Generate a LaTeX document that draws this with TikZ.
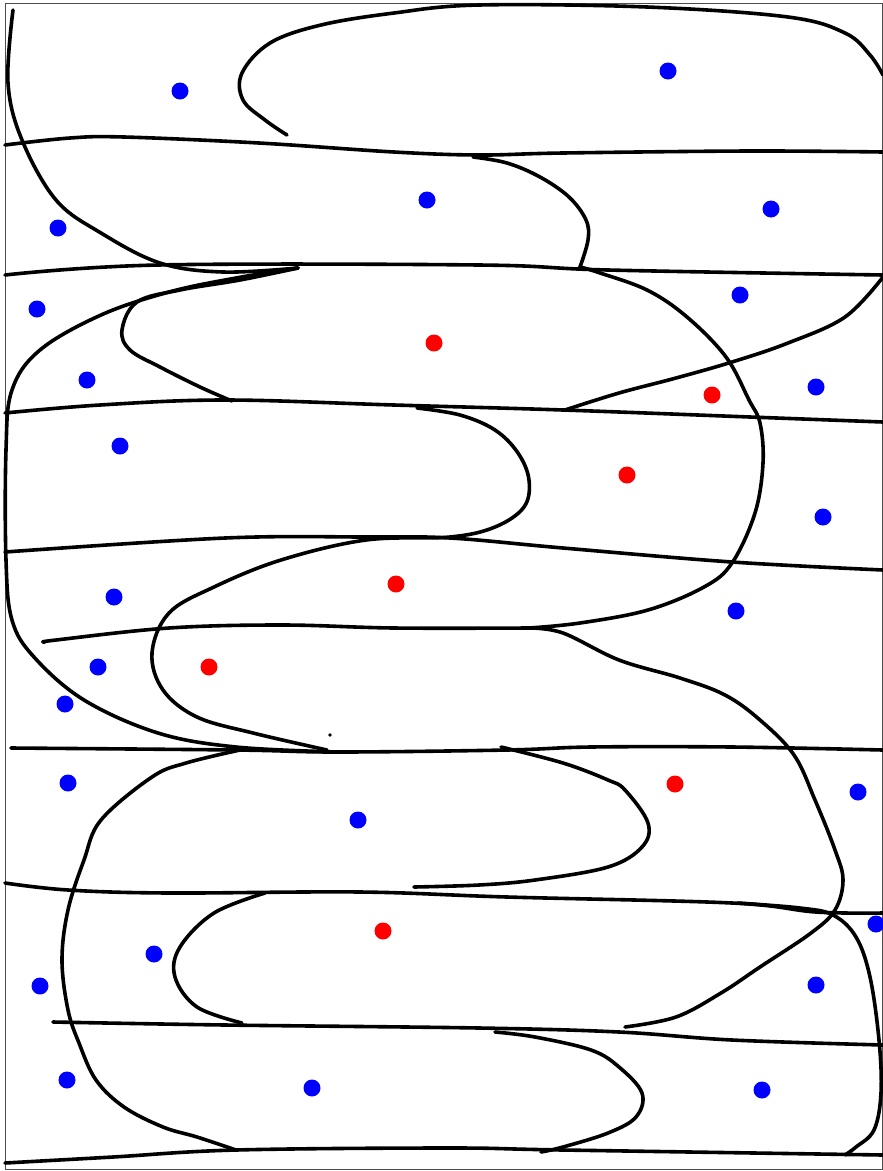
\documentclass[tikz,border=0pt]{standalone}
\usetikzlibrary{shapes.geometric}

\begin{document}
\begin{tikzpicture}[
  x=1pt, y=-1pt,
  pen/.style={draw=black, line width=3.6pt, line cap=round, line join=round},
  frame/.style={draw=black!70, line width=1pt},
  bluedot/.style={circle, fill=blue, inner sep=0pt, minimum size=17pt},
  reddot/.style={circle, fill=red, inner sep=0pt, minimum size=17pt}
]
\useasboundingbox (0,0) rectangle (883,1171);
\fill[white] (0,0) rectangle (883,1171);
\draw[frame] (5,3) rectangle (882,1169);

% horizontal strokes
\draw[pen] plot[smooth, tension=0.6] coordinates {(5,145) (70,138) (124,137) (259,143) (394,152) (479,155) (563,153) (750,151) (883,152)};
\draw[pen] plot[smooth, tension=0.6] coordinates {(5,275) (158,265) (479,265) (608,270) (883,275)};
\draw[pen] plot[smooth, tension=0.6] coordinates {(5,413) (100,405) (225,400) (394,405) (563,410) (750,417) (883,422)};
\draw[pen] plot[smooth, tension=0.6] coordinates {(5,552) (225,538) (366,537) (450,538) (563,548) (732,562) (883,570)};
\draw[pen] plot[smooth, tension=0.6] coordinates {(45,642) (56,640) (169,628) (282,625) (394,628) (529,628)};
\draw[pen] plot[smooth, tension=0.6] coordinates {(11,748) (236,750) (338,752) (507,750) (591,747) (732,747) (883,750)};
\draw[pen] plot[smooth, tension=0.6] coordinates {(5,883) (68,890) (169,893) (360,892) (507,897) (732,903) (816,912) (883,913)};
\draw[pen] plot[smooth, tension=0.6] coordinates {(53,1022) (225,1025) (479,1028) (619,1032) (732,1040) (883,1045)};
\draw[pen] plot[smooth, tension=0.6] coordinates {(5,1163) (113,1157) (236,1150) (450,1148) (563,1150) (883,1155)};

% serpentine strokes
\draw[pen] plot[smooth, tension=0.6] coordinates {(13,10) (8,83) (22,140) (56,200) (101,233) (160,263) (223,272) (298,268)};
\draw[pen] plot[smooth, tension=0.6] coordinates {(298,268) (236,278) (169,292) (101,315) (40,350) (12,390) (6,450) (6,560) (12,620) (34,657) (84,700) (158,733) (236,747) (338,752)};
\draw[pen] plot[smooth, tension=0.6] coordinates {(287,135) (265,120) (243,100) (242,73) (270,43) (321,25) (394,13) (479,5) (647,7) (788,17) (845,33) (870,55) (883,75)};
\draw[pen] plot[smooth, tension=0.6] coordinates {(473,157) (507,163) (540,177) (569,197) (586,220) (588,240) (580,267)};
\draw[pen] plot[smooth, tension=0.6] coordinates {(580,267) (597,272) (647,290) (687,317) (726,357) (749,400) (760,423) (763,463) (755,513) (732,563) (704,587) (648,610) (580,623) (529,628)};
\draw[pen] plot[smooth, tension=0.6] coordinates {(883,277) (845,317) (788,343) (732,362) (676,378) (619,393) (565,410)};
\draw[pen] plot[smooth, tension=0.6] coordinates {(298,268) (240,280) (180,290) (137,302) (122,330) (130,350) (160,367) (200,387) (232,401)};
\draw[pen] plot[smooth, tension=0.6] coordinates {(417,408) (460,415) (495,430) (518,453) (529,480) (524,507) (495,527) (450,537) (366,540) (281,560) (214,587) (169,613) (152,653) (163,690) (197,717) (253,733) (327,750)};
\draw[pen] plot[smooth, tension=0.6] coordinates {(529,628) (563,633) (619,660) (680,678) (725,695) (760,720) (794,755) (815,800) (835,850) (843,880) (835,910) (811,933) (760,967) (721,993) (676,1017) (625,1027)};
\draw[pen] plot[smooth, tension=0.6] coordinates {(240,750) (186,763) (152,777) (101,820) (84,860) (68,910) (62,960) (68,1010) (79,1043) (96,1080) (124,1107) (163,1127) (197,1137) (236,1150)};
\draw[pen] plot[smooth, tension=0.6] coordinates {(501,747) (563,763) (608,780) (625,790) (648,823) (642,847) (608,867) (535,880) (479,885) (414,887)};
\draw[pen] plot[smooth, tension=0.6] coordinates {(265,893) (214,913) (180,947) (175,977) (197,1007) (242,1023)};
\draw[pen] plot[smooth, tension=0.6] coordinates {(738,903) (800,908) (833,915) (856,937) (870,977) (879,1040) (881,1093) (874,1130) (856,1147) (845,1155)};
\draw[pen] plot[smooth, tension=0.6] coordinates {(495,1032) (535,1037) (591,1050) (619,1067) (642,1093) (636,1117) (608,1133) (563,1147) (541,1152)};
\fill (330,735) circle (1.8pt);

% dots
\foreach \x/\y [count=\n] in {180/91, 668/71, 58/228, 427/200, 771/209, 37/309, 740/295, 87/380,
    816/387, 120/446, 823/517, 114/597, 736/611, 98/667, 65/704, 68/783, 858/792, 358/820,
    876/924, 154/954, 40/986, 816/985, 67/1080, 312/1088, 762/1090}
  \node[bluedot] (b\n) at (\x,\y) {};
\foreach \x/\y [count=\n] in {434/343, 712/395, 627/475, 396/584, 209/667, 675/784, 383/931}
  \node[reddot] (r\n) at (\x,\y) {};

\end{tikzpicture}
\end{document}
